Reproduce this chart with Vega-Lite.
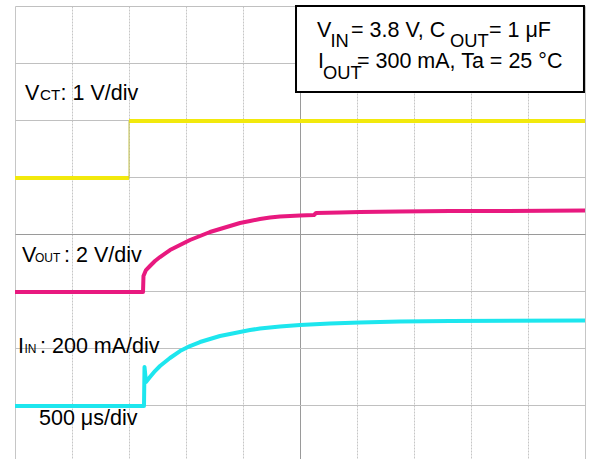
{
  "$schema": "https://vega.github.io/schema/vega-lite/v6.json",
  "width": 570,
  "height": 453,
  "padding": {"left": 15, "top": 6, "right": 6, "bottom": 0},
  "autosize": "none",
  "background": "white",
  "config": {"view": {"stroke": null}},
  "datasets": {
    "traces": [
      {"c": "y", "seg": "ya", "i": 0, "x": -5, "y": 0.982},
      {"c": "y", "seg": "ya", "i": 1, "x": -3.0, "y": 0.982},
      {"c": "y", "seg": "yb", "i": 0, "x": -3.0, "y": 1.982},
      {"c": "y", "seg": "yb", "i": 1, "x": 5, "y": 1.982},
      {"c": "e", "seg": "ye", "i": 0, "x": -3.0, "y": 0.982},
      {"c": "e", "seg": "ye", "i": 1, "x": -3.0, "y": 1.982},
      {"c": "m", "seg": "m", "i": 0, "x": -5, "y": -1.018},
      {"c": "m", "seg": "m", "i": 1, "x": -2.754, "y": -1.018},
      {"c": "m", "seg": "m", "i": 2, "x": -2.746, "y": -0.737},
      {"c": "m", "seg": "m", "i": 3, "x": -2.702, "y": -0.632},
      {"c": "m", "seg": "m", "i": 4, "x": -2.632, "y": -0.561},
      {"c": "m", "seg": "m", "i": 5, "x": -2.544, "y": -0.474},
      {"c": "m", "seg": "m", "i": 6, "x": -2.456, "y": -0.404},
      {"c": "m", "seg": "m", "i": 7, "x": -2.281, "y": -0.281},
      {"c": "m", "seg": "m", "i": 8, "x": -2.105, "y": -0.193},
      {"c": "m", "seg": "m", "i": 9, "x": -1.93, "y": -0.105},
      {"c": "m", "seg": "m", "i": 10, "x": -1.754, "y": -0.035},
      {"c": "m", "seg": "m", "i": 11, "x": -1.579, "y": 0.035},
      {"c": "m", "seg": "m", "i": 12, "x": -1.404, "y": 0.088},
      {"c": "m", "seg": "m", "i": 13, "x": -1.228, "y": 0.14},
      {"c": "m", "seg": "m", "i": 14, "x": -1.053, "y": 0.193},
      {"c": "m", "seg": "m", "i": 15, "x": -0.877, "y": 0.228},
      {"c": "m", "seg": "m", "i": 16, "x": -0.702, "y": 0.263},
      {"c": "m", "seg": "m", "i": 17, "x": -0.526, "y": 0.289},
      {"c": "m", "seg": "m", "i": 18, "x": -0.351, "y": 0.307},
      {"c": "m", "seg": "m", "i": 19, "x": -0.175, "y": 0.316},
      {"c": "m", "seg": "m", "i": 20, "x": 0, "y": 0.325},
      {"c": "m", "seg": "m", "i": 21, "x": 0.246, "y": 0.333},
      {"c": "m", "seg": "m", "i": 22, "x": 0.281, "y": 0.368},
      {"c": "m", "seg": "m", "i": 23, "x": 0.702, "y": 0.377},
      {"c": "m", "seg": "m", "i": 24, "x": 1.053, "y": 0.386},
      {"c": "m", "seg": "m", "i": 25, "x": 1.754, "y": 0.395},
      {"c": "m", "seg": "m", "i": 26, "x": 2.632, "y": 0.404},
      {"c": "m", "seg": "m", "i": 27, "x": 3.509, "y": 0.404},
      {"c": "m", "seg": "m", "i": 28, "x": 5, "y": 0.412},
      {"c": "c", "seg": "c", "i": 0, "x": -5, "y": -3.018},
      {"c": "c", "seg": "c", "i": 1, "x": -2.737, "y": -3.018},
      {"c": "c", "seg": "c", "i": 2, "x": -2.728, "y": -2.333},
      {"c": "c", "seg": "c", "i": 3, "x": -2.702, "y": -2.596},
      {"c": "c", "seg": "c", "i": 4, "x": -2.632, "y": -2.509},
      {"c": "c", "seg": "c", "i": 5, "x": -2.544, "y": -2.404},
      {"c": "c", "seg": "c", "i": 6, "x": -2.456, "y": -2.316},
      {"c": "c", "seg": "c", "i": 7, "x": -2.281, "y": -2.175},
      {"c": "c", "seg": "c", "i": 8, "x": -2.105, "y": -2.053},
      {"c": "c", "seg": "c", "i": 9, "x": -1.93, "y": -1.965},
      {"c": "c", "seg": "c", "i": 10, "x": -1.754, "y": -1.895},
      {"c": "c", "seg": "c", "i": 11, "x": -1.579, "y": -1.842},
      {"c": "c", "seg": "c", "i": 12, "x": -1.404, "y": -1.789},
      {"c": "c", "seg": "c", "i": 13, "x": -1.228, "y": -1.754},
      {"c": "c", "seg": "c", "i": 14, "x": -1.053, "y": -1.719},
      {"c": "c", "seg": "c", "i": 15, "x": -0.877, "y": -1.684},
      {"c": "c", "seg": "c", "i": 16, "x": -0.702, "y": -1.658},
      {"c": "c", "seg": "c", "i": 17, "x": -0.351, "y": -1.623},
      {"c": "c", "seg": "c", "i": 18, "x": 0, "y": -1.596},
      {"c": "c", "seg": "c", "i": 19, "x": 0.526, "y": -1.57},
      {"c": "c", "seg": "c", "i": 20, "x": 1.053, "y": -1.553},
      {"c": "c", "seg": "c", "i": 21, "x": 1.754, "y": -1.535},
      {"c": "c", "seg": "c", "i": 22, "x": 2.632, "y": -1.526},
      {"c": "c", "seg": "c", "i": 23, "x": 5, "y": -1.518}
    ],
    "mx": [
      {"x": -4.8}, {"x": -4.6}, {"x": -4.4}, {"x": -4.2}, {"x": -4.0},
      {"x": -3.8}, {"x": -3.6}, {"x": -3.4}, {"x": -3.2}, {"x": -3.0},
      {"x": -2.8}, {"x": -2.6}, {"x": -2.4}, {"x": -2.2}, {"x": -2.0},
      {"x": -1.8}, {"x": -1.6}, {"x": -1.4}, {"x": -1.2}, {"x": -1.0},
      {"x": -0.8}, {"x": -0.6}, {"x": -0.4}, {"x": -0.2}, {"x": 0},
      {"x": 0.2}, {"x": 0.4}, {"x": 0.6}, {"x": 0.8}, {"x": 1.0},
      {"x": 1.2}, {"x": 1.4}, {"x": 1.6}, {"x": 1.8}, {"x": 2.0},
      {"x": 2.2}, {"x": 2.4}, {"x": 2.6}, {"x": 2.8}, {"x": 3.0},
      {"x": 3.2}, {"x": 3.4}, {"x": 3.6}, {"x": 3.8}, {"x": 4.0},
      {"x": 4.2}, {"x": 4.4}, {"x": 4.6}, {"x": 4.8}
    ],
    "my": [
      {"y": -3.8}, {"y": -3.6}, {"y": -3.4}, {"y": -3.2}, {"y": -3.0},
      {"y": -2.8}, {"y": -2.6}, {"y": -2.4}, {"y": -2.2}, {"y": -2.0},
      {"y": -1.8}, {"y": -1.6}, {"y": -1.4}, {"y": -1.2}, {"y": -1.0},
      {"y": -0.8}, {"y": -0.6}, {"y": -0.4}, {"y": -0.2}, {"y": 0},
      {"y": 0.2}, {"y": 0.4}, {"y": 0.6}, {"y": 0.8}, {"y": 1.0},
      {"y": 1.2}, {"y": 1.4}, {"y": 1.6}, {"y": 1.8}, {"y": 2.0},
      {"y": 2.2}, {"y": 2.4}, {"y": 2.6}, {"y": 2.8}, {"y": 3.0},
      {"y": 3.2}, {"y": 3.4}, {"y": 3.6}, {"y": 3.8}
    ],
    "dots": [{"y": 2.5}, {"y": -2.5}],
    "box": [{"x": -0.07, "x2": 4.982, "y": 4.0, "y2": 2.491}],
    "labels": [
      {"x": -4.825, "y": 2.351, "t": "V", "k": "m"},
      {"x": -4.562, "y": 2.351, "t": "CT", "k": "s2"},
      {"x": -4.2, "y": 2.351, "t": ": 1 V/div", "k": "m"},
      {"x": -4.877, "y": -0.491, "t": "V", "k": "m"},
      {"x": -4.649, "y": -0.491, "t": "OUT", "k": "s3"},
      {"x": -4.14, "y": -0.491, "t": ": 2 V/div", "k": "m"},
      {"x": -4.947, "y": -2.088, "t": "I", "k": "m"},
      {"x": -4.833, "y": -2.088, "t": "IN", "k": "s3"},
      {"x": -4.561, "y": -2.088, "t": ": 200 mA/div", "k": "m"},
      {"x": -4.579, "y": -3.351, "t": "500 μs/div", "k": "m"},
      {"x": 0.298, "y": 3.456, "t": "V", "k": "m"},
      {"x": 0.535, "y": 3.281, "t": "IN", "k": "s"},
      {"x": 0.895, "y": 3.456, "t": "= 3.8 V, C", "k": "m"},
      {"x": 2.632, "y": 3.281, "t": "OUT", "k": "s"},
      {"x": 3.316, "y": 3.456, "t": "= 1 μF", "k": "m"},
      {"x": 0.316, "y": 2.912, "t": "I", "k": "m"},
      {"x": 0.404, "y": 2.719, "t": "OUT", "k": "s"},
      {"x": 1.0, "y": 2.912, "t": "= 300 mA, Ta = 25 °C", "k": "m"}
    ]
  },
  "encoding": {
    "x": {
      "field": "x", "type": "quantitative",
      "scale": {"domain": [-5, 5], "nice": false, "zero": false},
      "axis": {
        "values": [-5, -4, -3, -2, -1, 0, 1, 2, 3, 4, 5],
        "grid": true, "labels": false, "ticks": false, "domain": false, "title": null,
        "gridColor": {"condition": {"test": "datum.value === 0", "value": "#9a9a9a"}, "value": "#c6c6c6"},
        "gridDash": {"condition": {"test": "datum.value === 0 || abs(datum.value) === 5", "value": []}, "value": [2, 1]},
        "gridOpacity": 1, "gridWidth": 1
      }
    },
    "y": {
      "field": "y", "type": "quantitative",
      "scale": {"domain": [-3.947, 4], "nice": false, "zero": false},
      "axis": {
        "values": [-3, -2, -1, 0, 1, 2, 3, 4],
        "grid": true, "labels": false, "ticks": false, "domain": false, "title": null,
        "gridColor": {"condition": {"test": "datum.value === 0", "value": "#9a9a9a"}, "value": "#c0c0c0"},
        "gridOpacity": 1, "gridWidth": 1
      }
    }
  },
  "layer": [
    {
      "data": {"name": "dots"},
      "mark": {"type": "rule", "color": "#9a9a9a", "strokeWidth": 1.2, "strokeDash": [1.2, 10.2]},
      "encoding": {"x": {"datum": -5}, "x2": {"datum": 5}}
    },
    {
      "data": {"name": "mx"},
      "mark": {"type": "rule", "color": "#8a8a8a", "strokeWidth": 1},
      "encoding": {"y": {"datum": -0.06}, "y2": {"datum": 0.06}}
    },
    {
      "data": {"name": "my"},
      "mark": {"type": "rule", "color": "#8a8a8a", "strokeWidth": 1},
      "encoding": {"x": {"datum": -0.06}, "x2": {"datum": 0.06}}
    },
    {
      "data": {"name": "traces"},
      "transform": [{"filter": "datum.c !== 'e'"}],
      "mark": {"type": "line", "strokeWidth": 4, "strokeCap": "butt", "strokeJoin": "round"},
      "encoding": {
        "detail": {"field": "seg"},
        "order": {"field": "i", "type": "quantitative"},
        "color": {"field": "c", "type": "nominal", "legend": null,
          "scale": {"domain": ["y", "m", "c", "e"], "range": ["#f2e90c", "#e8197f", "#1de6ee", "#c2c04a"]}}
      }
    },
    {
      "data": {"name": "traces"},
      "transform": [{"filter": "datum.c === 'e'"}],
      "mark": {"type": "line", "strokeWidth": 1},
      "encoding": {
        "detail": {"field": "seg"},
        "order": {"field": "i", "type": "quantitative"},
        "color": {"field": "c", "type": "nominal", "legend": null,
          "scale": {"domain": ["y", "m", "c", "e"], "range": ["#f2e90c", "#e8197f", "#1de6ee", "#c2c04a"]}}
      }
    },
    {
      "data": {"name": "box"},
      "mark": {"type": "rect", "fill": "white", "stroke": "black", "strokeWidth": 2},
      "encoding": {"x2": {"field": "x2"}, "y2": {"field": "y2"}}
    },
    {
      "data": {"name": "labels"},
      "mark": {"type": "text", "align": "left", "baseline": "alphabetic", "font": "Liberation Sans", "color": "#000000"},
      "encoding": {
        "text": {"field": "t"},
        "size": {"field": "k", "type": "nominal", "legend": null,
          "scale": {"domain": ["m", "s", "s2", "s3"], "range": [21.5, 12, 10.5, 12.5]}}
      }
    }
  ]
}
